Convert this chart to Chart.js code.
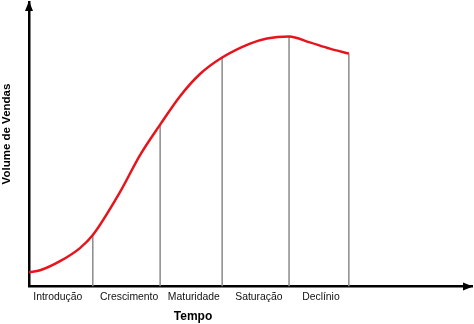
<!DOCTYPE html>
<html>
<head>
<meta charset="utf-8">
<script src="https://cdn.jsdelivr.net/npm/chart.js@4.4.1/dist/chart.umd.min.js"></script>
<style>
    html, body { margin: 0; padding: 0; background: #ffffff; }
    #wrap { position: relative; width: 474px; height: 324px; }
</style>
</head>
<body>
<div id="wrap"><canvas id="graficoCiclo"></canvas></div>
<script>
// curva de vendas (tempo 0-100, volume 0-100)
var tempoCurva = [0, 2.5, 7.0, 11.5, 14.4, 20.5, 25.1, 29.6, 34.1, 38.6, 43.6, 49.9, 53.7, 58.7, 63.4, 67.9, 72.2];
var volumeCurva = [5.0, 5.7, 8.9, 13.5, 18.1, 33.1, 46.3, 56.9, 66.9, 74.7, 80.5, 85.4, 87.2, 87.9, 85.8, 83.6, 81.9];

// fim de cada fase (linhas verticais)
var tempoFases = [14.4, 29.6, 43.6, 58.7, 72.2];
var volumeFases = [18.1, 56.9, 80.5, 87.9, 81.9];

// rótulos das fases no eixo do tempo
var rotulos = ['Introdução', 'Crescimento', 'Maturidade', 'Saturação', 'Declínio'];
var posRotulos = [6.5, 22.6, 37.2, 51.9, 65.9];

var fonte = '"Liberation Sans", Arial, Helvetica, sans-serif';

var pontosCurva = tempoCurva.map(function (t, i) {
    return { x: t, y: volumeCurva[i] };
});

var datasets = [{
    label: 'Volume de Vendas',
    data: pontosCurva,
    borderColor: '#e8141c',
    borderWidth: 2.5,
    pointRadius: 0,
    fill: false,
    cubicInterpolationMode: 'monotone',
    order: 0,
}];

tempoFases.forEach(function (t, i) {
    datasets.push({
        label: rotulos[i],
        data: [{ x: t, y: 0 }, { x: t, y: volumeFases[i] }],
        borderColor: '#8a8a8a',
        borderWidth: 1.5,
        pointRadius: 0,
        fill: false,
        order: 1,
    });
});

// setas nas pontas dos eixos e títulos dos eixos
var eixosPlugin = {
    id: 'eixos',
    afterDraw: function (chart) {
        var ctx = chart.ctx;
        var a = chart.chartArea;
        ctx.save();
        ctx.fillStyle = '#000';
        // seta vertical
        ctx.beginPath();
        ctx.moveTo(a.left, a.top - 1);
        ctx.lineTo(a.left - 4, a.top + 9);
        ctx.lineTo(a.left + 4, a.top + 9);
        ctx.closePath();
        ctx.fill();
        // seta horizontal
        ctx.beginPath();
        ctx.moveTo(a.right + 1, a.bottom);
        ctx.lineTo(a.right - 9, a.bottom - 4);
        ctx.lineTo(a.right - 9, a.bottom + 4);
        ctx.closePath();
        ctx.fill();

        ctx.textAlign = 'center';
        ctx.textBaseline = 'middle';
        ctx.font = 'bold 12px ' + fonte;
        ctx.fillText('Tempo', 193, 317);

        ctx.translate(7, 134);
        ctx.rotate(-Math.PI / 2);
        ctx.font = 'bold 11.5px ' + fonte;
        ctx.fillText('Volume de Vendas', 0, 0);
        ctx.restore();
    },
};

new Chart(document.getElementById('graficoCiclo').getContext('2d'), {
    type: 'line',
    data: { datasets: datasets },
    options: {
        responsive: true,
        maintainAspectRatio: false,
        animation: false,
        layout: { padding: { left: 29, right: 2, top: 2, bottom: 17 } },
        plugins: {
            legend: { display: false },
            tooltip: { enabled: false },
        },
        scales: {
            x: {
                type: 'linear',
                min: 0,
                max: 100,
                grid: { display: false, drawTicks: false, tickLength: 0 },
                border: { display: true, color: '#000', width: 2.5 },
                afterBuildTicks: function (scale) {
                    scale.ticks = posRotulos.map(function (v) { return { value: v }; });
                },
                ticks: {
                    autoSkip: false,
                    maxRotation: 0,
                    padding: 4,
                    color: '#111',
                    font: { family: fonte, size: 10.4 },
                    callback: function (v, i) { return rotulos[i]; },
                },
            },
            y: {
                min: 0,
                max: 100,
                grid: { display: false, drawTicks: false, tickLength: 0 },
                border: { display: true, color: '#000', width: 2.5 },
                ticks: { display: false },
            },
        },
    },
    plugins: [eixosPlugin],
});
</script>
</body>
</html>
